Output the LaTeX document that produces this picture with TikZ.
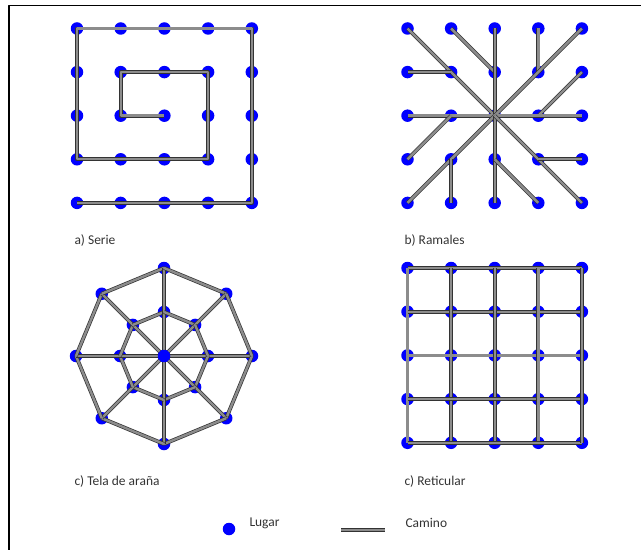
\documentclass[tikz,border=0pt]{standalone}
\usepackage{fontspec}
\setmainfont{Carlito}

\begin{document}
\begin{tikzpicture}[x=1bp,y=-1bp,line join=round,
  lugar/.style={circle,fill=blue,inner sep=0pt,minimum size=12.5bp},
  camino/.style={draw=black!80,double=black!45,double distance=2.4bp,line width=0.7bp},
  rotulo/.style={anchor=west,text=black!80,font=\fontsize{13.5}{15}\selectfont}]
  \useasboundingbox (0,0) rectangle (641,550);
  \draw[line width=1.3bp] (9,550) -- (9,5.5) -- (641,5.5);
  % the three square grids of places
  \foreach \r in {0,...,4}
    \foreach \c in {0,...,4} {
      \node[lugar] (s\r\c) at ({77+43.7*\c},{28.5+43.6*\r}) {};
      \node[lugar] (m\r\c) at ({407.5+43.6*\c},{28.5+43.6*\r}) {};
      \node[lugar] (g\r\c) at ({407.5+43.6*\c},{268+43.7*\r}) {};
    }
  % a) serie
  \draw[camino] (s40.center) -- (s44.center) -- (s04.center) -- (s00.center) -- (s30.center)
    -- (s33.center) -- (s13.center) -- (s11.center) -- (s21.center) -- (s22.center);
  % b) ramales
  \foreach \a/\b in {00/22,10/11,01/12,02/22,03/13,04/22,14/23,20/24,
                     30/21,40/22,41/31,22/42,32/43,22/44,33/34}
    \draw[camino] (m\a.center) -- (m\b.center);
  % c) tela de arana
  \node[lugar] (w) at (164,356) {};
  \foreach \i in {0,...,7} {
    \node[lugar] (wi\i) at ({164+44*cos(45*\i)},{356+44*sin(45*\i)}) {};
    \node[lugar] (wo\i) at ({164+88*cos(45*\i)},{356+88*sin(45*\i)}) {};
  }
  \foreach \i [evaluate=\i as \j using {int(mod(\i+1,8))}] in {0,...,7} {
    \draw[camino] (wo\i.center) -- (w.center);
    \draw[camino] (wi\i.center) -- (wi\j.center);
    \draw[camino] (wo\i.center) -- (wo\j.center);
  }
  \node[lugar] at (w) {};
  % d) reticular
  \foreach \k in {0,...,4} {
    \draw[camino] (g\k0.center) -- (g\k4.center);
    \draw[camino] (g0\k.center) -- (g4\k.center);
  }
  % captions
  \node[rotulo] (ra) at (71,241) {a) Serie};
  \node[rotulo] (rb) at (401,241) {b) Ramales};
  \node[rotulo] (rc) at (71,482) {c) Tela de araña};
  \node[rotulo] (rd) at (401,482) {c) Reticular};
  % legend
  \node[lugar] (lz) at (229,529) {};
  \node[rotulo] (tl) at (246,523) {Lugar};
  \coordinate (ca) at (341,530);
  \coordinate (cb) at (385,530);
  \draw[camino] (ca) -- (cb);
  \node[rotulo] (tc) at (402,523) {Camino};
\end{tikzpicture}
\end{document}
